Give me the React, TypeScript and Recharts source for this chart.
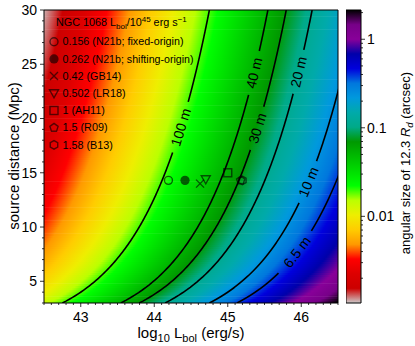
import React from 'react';
import { ComposedChart, XAxis, YAxis, Line, Scatter, ReferenceArea } from 'recharts';

const FONT = '"Liberation Sans", Arial, sans-serif';

// NGC 1068 bolometric luminosity estimates (1e45 erg/s) and the distance used (Mpc)
const lbolLabels = [
  '0.156 (N21b; fixed-origin)',
  '0.262 (N21b; shifting-origin)',
  '0.42 (GB14)',
  '0.502 (LR18)',
  '1 (AH11)',
  '1.5 (R09)',
  '1.58 (B13)',
];
const lbolValues = [0.156, 0.262, 0.42, 0.502, 1, 1.5, 1.58];
const lbolDistances = [14.3, 14.3, 14.0, 14.4, 15.0, 14.3, 14.3];
const markerKinds = ['circle', 'dot', 'cross', 'triangle', 'square', 'pentagon', 'hexagon'];

// diffraction-limit contours, baseline in metres
const baselineLabels = ['100 m', '40 m', '30 m', '20 m', '10 m', '6.5 m'];
const baselines = [100, 40, 30, 20, 10, 6.5];
// distance (Mpc) at which each contour label sits
const labelDistances = [19.2, 24.2, 19.1, 24.3, 14.15, 7.7];

const xMajorTicks = [43, 44, 45, 46];
const yMajorTicks = [5, 10, 15, 20, 25, 30];
const cbMajorTicks = [0.01, 0.1, 1];

const X_DOMAIN: [number, number] = [42.5, 46.5];
const Y_DOMAIN: [number, number] = [3, 30];
const CB_DOMAIN: [number, number] = [0.00105, 2.14];

// colour field: log theta = HEAT_LOG0 + HEAT_A (x - 45) - HEAT_B log D
const HEAT_LOG0 = 0.045;
const HEAT_A = 0.55;
const HEAT_B = 1.1;
// contours: theta = THETA_1MPC sqrt(L/1e45) / D  equals  LAMBDA_M / baseline
const THETA_1MPC = 0.78; // arcsec
const LAMBDA_M = 1.95; // arcsec * m

// layout of the plot box
const PLOT = { left: 44, top: 10, right: 338, bottom: 303 };
const PX_X = (PLOT.right - PLOT.left) / (X_DOMAIN[1] - X_DOMAIN[0]);
const PX_Y = (PLOT.bottom - PLOT.top) / (Y_DOMAIN[1] - Y_DOMAIN[0]);

// matplotlib nipy_spectral nodes [pos, r, g, b]
const NIPY = [
  [0.0, 0, 0, 0], [0.05, 0.4667, 0, 0.5333], [0.1, 0.5333, 0, 0.6], [0.15, 0, 0, 0.6667],
  [0.2, 0, 0, 0.8667], [0.25, 0, 0.4667, 0.8667], [0.3, 0, 0.6, 0.8667], [0.35, 0, 0.6667, 0.6667],
  [0.4, 0, 0.6667, 0.5333], [0.45, 0, 0.6, 0], [0.5, 0, 0.7333, 0], [0.55, 0, 0.8667, 0],
  [0.6, 0, 1, 0], [0.65, 0.7333, 1, 0], [0.7, 0.9333, 0.9333, 0], [0.75, 1, 0.8, 0],
  [0.8, 1, 0.6, 0], [0.85, 1, 0, 0], [0.9, 0.8667, 0, 0], [0.95, 0.8, 0, 0], [1.0, 0.8, 0.8, 0.8],
];
const rgb = (n: number[]) => `rgb(${Math.round(n[1] * 255)},${Math.round(n[2] * 255)},${Math.round(n[3] * 255)})`;
// reversed map: offset 0 = vmin (grey), offset 1 = vmax (black)
const cmapStops = NIPY.map((n) => ({ offset: 1 - n[0], color: rgb(n) })).reverse();

const lg = Math.log10;
const heatX = (theta: number, d: number) => 45 + (lg(theta) - HEAT_LOG0 + HEAT_B * lg(d)) / HEAT_A;
const contourX = (theta: number, d: number) => 45 + 2 * lg((theta * d) / THETA_1MPC);

// heat map rows: along a row log(theta) is linear in x, so one gradient spans vmin..vmax
const ROW_STEP = 0.2;
const heatRows: { d: number; x1: number; x2: number }[] = [];
for (let d = Y_DOMAIN[0] + ROW_STEP / 2; d < Y_DOMAIN[1]; d += ROW_STEP) {
  heatRows.push({ d, x1: heatX(CB_DOMAIN[0], d), x2: heatX(CB_DOMAIN[1], d) });
}

const contours = baselines.map((b, i) => {
  const th = LAMBDA_M / b;
  const dl = labelDistances[i];
  const ang = Math.atan(((dl * Math.LN10) / 2) * (PX_Y / PX_X));
  const half = baselineLabels[i].length * 3.9 + 7;
  const dd = (half * Math.sin(ang)) / PX_Y;
  const seg = (d0: number, d1: number) =>
    Array.from({ length: 81 }, (_, k) => {
      const d = d0 + ((d1 - d0) * k) / 80;
      return { x: contourX(th, d), y: d };
    });
  return {
    lower: seg(Y_DOMAIN[0], dl - dd),
    upper: seg(dl + dd, Y_DOMAIN[1]),
    label: { x: contourX(th, dl), y: dl, text: baselineLabels[i], angle: (ang * 180) / Math.PI },
  };
});

const markerData = lbolValues.map((v, i) => ({ x: 45 + lg(v), y: lbolDistances[i], kind: markerKinds[i] }));

const xTicks = Array.from({ length: 41 }, (_, i) => Math.round((X_DOMAIN[0] + i * 0.1) * 10) / 10);
const yTicks = Array.from({ length: 28 }, (_, i) => 3 + i);
const cbTicks: number[] = [];
for (let k = -3; k <= 0; k++) {
  for (let m = 1; m <= 9; m++) {
    const v = m * Math.pow(10, k);
    if (v >= CB_DOMAIN[0] && v <= CB_DOMAIN[1]) cbTicks.push(v);
  }
}

const INK = 'rgba(0,0,0,0.6)';

const polygon = (cx: number, cy: number, n: number, r: number) =>
  Array.from({ length: n }, (_, k) => {
    const a = -Math.PI / 2 + (2 * Math.PI * k) / n;
    return `${cx + r * Math.cos(a)},${cy + r * Math.sin(a)}`;
  }).join(' ');

const MarkerGlyph = ({ kind, cx, cy }: { kind: string; cx: number; cy: number }) => {
  const sw = 1.4;
  switch (kind) {
    case 'circle':
      return <circle cx={cx} cy={cy} r={4} fill="none" stroke={INK} strokeWidth={sw} />;
    case 'dot':
      return <circle cx={cx} cy={cy} r={4.6} fill={INK} />;
    case 'cross':
      return (
        <path d={`M${cx - 4},${cy - 4}L${cx + 4},${cy + 4}M${cx - 4},${cy + 4}L${cx + 4},${cy - 4}`} stroke={INK} strokeWidth={sw} />
      );
    case 'triangle':
      return <polygon points={`${cx - 4.5},${cy - 3.5} ${cx + 4.5},${cy - 3.5} ${cx},${cy + 4.5}`} fill="none" stroke={INK} strokeWidth={sw} />;
    case 'square':
      return <rect x={cx - 4} y={cy - 4} width={8} height={8} fill="none" stroke={INK} strokeWidth={sw} />;
    case 'pentagon':
      return <polygon points={polygon(cx, cy, 5, 4.3)} fill="none" stroke={INK} strokeWidth={sw} />;
    default:
      return <polygon points={polygon(cx, cy, 6, 4.3)} fill="none" stroke={INK} strokeWidth={sw} />;
  }
};

const MarkerShape = (props: any) => {
  const p = props.payload || props;
  return <MarkerGlyph kind={p.kind} cx={props.cx} cy={props.cy} />;
};

const ContourLabel = (props: any) => {
  const p = props.payload || props;
  const { cx, cy } = props;
  return (
    <text
      x={cx}
      y={cy}
      dy="0.35em"
      textAnchor="middle"
      fontSize={14}
      fontFamily={FONT}
      fill="#000"
      transform={`rotate(${-p.angle} ${cx} ${cy})`}
    >
      {p.text}
    </text>
  );
};

const XTick = (props: any) => {
  const { x, y, payload } = props;
  const v = payload.value;
  const major = xMajorTicks.some((t) => Math.abs(t - v) < 1e-6);
  return (
    <g>
      <line x1={x} x2={x} y1={y} y2={y + (major ? 4 : 2)} stroke="#000" strokeWidth={0.8} />
      {major && (
        <text x={x} y={y + 19} textAnchor="middle" fontSize={14} fontFamily={FONT} fill="#000">
          {v}
        </text>
      )}
    </g>
  );
};

const YTick = (props: any) => {
  const { x, y, payload } = props;
  const v = payload.value;
  const major = yMajorTicks.includes(v);
  return (
    <g>
      <line x1={x - (major ? 4 : 2)} x2={x} y1={y} y2={y} stroke="#000" strokeWidth={0.8} />
      {major && (
        <text x={x - 7} y={y} dy="0.35em" textAnchor="end" fontSize={14} fontFamily={FONT} fill="#000">
          {v}
        </text>
      )}
    </g>
  );
};

const CbTick = (props: any) => {
  const { x, y, payload } = props;
  const v = payload.value;
  const major = cbMajorTicks.some((t) => Math.abs(t - v) / t < 1e-6);
  return (
    <g>
      <line x1={x} x2={x + (major ? 4 : 2)} y1={y} y2={y} stroke="#000" strokeWidth={0.8} />
      {major && (
        <text x={x + 6} y={y} dy="0.35em" textAnchor="start" fontSize={14} fontFamily={FONT} fill="#000">
          {String(v)}
        </text>
      )}
    </g>
  );
};

const Gradients = () => (
  <svg width={0} height={0} style={{ position: 'absolute', left: 0, top: 0 }}>
    <defs>
      <linearGradient id="cmapH" x1="0" y1="0" x2="1" y2="0">
        {cmapStops.map((s, i) => (
          <stop key={i} offset={s.offset} stopColor={s.color} />
        ))}
      </linearGradient>
      <linearGradient id="cmapV" x1="0" y1="1" x2="0" y2="0">
        {cmapStops.map((s, i) => (
          <stop key={i} offset={s.offset} stopColor={s.color} />
        ))}
      </linearGradient>
    </defs>
  </svg>
);

// widths of the two long legend lines in the reference
const legendWidths: Record<number, number> = { 0: 121, 1: 131 };

const Overlay = () => {
  const y0 = 41.7;
  const step = 17.2;
  return (
    <svg width={415} height={346} style={{ position: 'absolute', left: 0, top: 0, pointerEvents: 'none' }}>
      <g fontFamily={FONT} fill="#000">
        <text x={56} y={26} fontSize={10.8}>
          NGC 1068 L<tspan dy={2.5} fontSize={8}>bol</tspan>
          <tspan dy={-2.5}>/10</tspan>
          <tspan dy={-4} fontSize={8}>45</tspan>
          <tspan dy={4}> erg s</tspan>
          <tspan dy={-4} fontSize={8}>−1</tspan>
        </text>
        {lbolLabels.map((t, i) => (
          <g key={t}>
            <MarkerGlyph kind={markerKinds[i]} cx={54} cy={y0 + i * step} />
            <text
              x={62.5}
              y={y0 + i * step}
              dy="0.35em"
              fontSize={10.8}
              textLength={legendWidths[i]}
              lengthAdjust={legendWidths[i] ? 'spacingAndGlyphs' : undefined}
            >
              {t}
            </text>
          </g>
        ))}
        <text x={14} y={156} dy="0.35em" textAnchor="middle" fontSize={15} transform="rotate(-90 14 156)">
          source distance (Mpc)
        </text>
        <text x={191} y={338} textAnchor="middle" fontSize={15}>
          log<tspan dy={4} fontSize={11}>10</tspan>
          <tspan dy={-4}> L</tspan>
          <tspan dy={4} fontSize={11}>bol</tspan>
          <tspan dy={-4}> (erg/s)</tspan>
        </text>
        <text x={405} y={163} dy="0.35em" textAnchor="middle" fontSize={13} transform="rotate(-90 405 163)">
          angular size of 12.3 <tspan fontStyle="italic">R</tspan>
          <tspan dy={3} fontSize={9.5} fontStyle="italic">d</tspan>
          <tspan dy={-3}> (arcsec)</tspan>
        </text>
      </g>
    </svg>
  );
};

export default function App() {
  return (
    <div style={{ position: 'absolute', left: 0, top: 0, width: 415, height: 346, background: '#fff' }}>
      <Gradients />
      <div style={{ position: 'absolute', left: 0, top: 0 }}>
        <ComposedChart width={415} height={346} margin={{ top: PLOT.top, right: 415 - PLOT.right, bottom: 0, left: 0 }}>
          <XAxis
            type="number"
            dataKey="x"
            domain={X_DOMAIN}
            allowDataOverflow
            ticks={xTicks}
            interval={0}
            height={346 - PLOT.bottom}
            tick={<XTick />}
            tickLine={false}
            axisLine={false}
            tickSize={0}
            tickMargin={0}
          />
          <YAxis
            type="number"
            dataKey="y"
            domain={Y_DOMAIN}
            allowDataOverflow
            ticks={yTicks}
            interval={0}
            width={PLOT.left}
            tick={<YTick />}
            tickLine={false}
            axisLine={false}
            tickSize={0}
            tickMargin={0}
          />
          {heatRows.map((r, i) => (
            <ReferenceArea
              key={'row' + i}
              x1={r.x1}
              x2={r.x2}
              y1={r.d - ROW_STEP * 0.65}
              y2={r.d + ROW_STEP * 0.65}
              fill="url(#cmapH)"
              fillOpacity={1}
              stroke="none"
              ifOverflow="hidden"
            />
          ))}
          {contours.map((c, i) => (
            <Line
              key={'lo' + i}
              data={c.lower}
              dataKey="y"
              type="linear"
              stroke="#000"
              strokeWidth={1.6}
              dot={false}
              activeDot={false}
              isAnimationActive={false}
            />
          ))}
          {contours.map((c, i) => (
            <Line
              key={'up' + i}
              data={c.upper}
              dataKey="y"
              type="linear"
              stroke="#000"
              strokeWidth={1.6}
              dot={false}
              activeDot={false}
              isAnimationActive={false}
            />
          ))}
          <Scatter data={contours.map((c) => c.label)} shape={<ContourLabel />} isAnimationActive={false} />
          <Scatter data={markerData} shape={<MarkerShape />} isAnimationActive={false} />
          <ReferenceArea
            x1={X_DOMAIN[0]}
            x2={X_DOMAIN[1]}
            y1={Y_DOMAIN[0]}
            y2={Y_DOMAIN[1]}
            fill="none"
            stroke="#000"
            strokeWidth={1}
            ifOverflow="visible"
          />
        </ComposedChart>
      </div>
      <div style={{ position: 'absolute', left: 346, top: 0 }}>
        <ComposedChart width={69} height={346} margin={{ top: PLOT.top, right: 0, bottom: 346 - PLOT.bottom, left: 0 }} data={[{ x: 0.5, v: 0.1 }]}>
          <XAxis type="number" dataKey="x" domain={[0, 1]} allowDataOverflow hide />
          <YAxis
            orientation="right"
            type="number"
            scale="log"
            dataKey="v"
            domain={CB_DOMAIN}
            allowDataOverflow
            ticks={cbTicks}
            interval={0}
            width={54}
            tick={<CbTick />}
            tickLine={false}
            axisLine={false}
            tickSize={0}
            tickMargin={0}
          />
          <ReferenceArea
            x1={0}
            x2={1}
            y1={CB_DOMAIN[0]}
            y2={CB_DOMAIN[1]}
            fill="url(#cmapV)"
            fillOpacity={1}
            stroke="#000"
            strokeWidth={1}
            ifOverflow="visible"
          />
        </ComposedChart>
      </div>
      <Overlay />
    </div>
  );
}
